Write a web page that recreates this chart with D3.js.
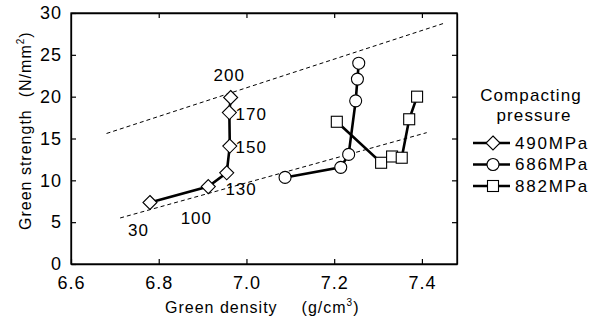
<!DOCTYPE html>
<html>
<head>
<meta charset="utf-8">
<script src="https://cdn.jsdelivr.net/npm/d3@7/dist/d3.min.js"></script>
<style>
body { margin: 0; background: #fff; }
text { font-family: "Liberation Sans", Arial, sans-serif; fill: #000; }
</style>
</head>
<body>
<div id="chart"></div>
<script>
// data
var xTicks = [6.6, 6.8, 7.0, 7.2, 7.4];
var yTicks = [0, 5, 10, 15, 20, 25, 30];

var d490 = [[6.78, 7.35], [6.913, 9.25], [6.955, 10.9], [6.962, 14.1], [6.961, 18.1], [6.964, 19.9]];
var d686 = [[7.088, 10.35], [7.215, 11.55], [7.233, 13.1], [7.249, 19.5], [7.253, 22.1], [7.256, 24.0]];
var d882 = [[7.206, 17.0], [7.307, 12.1], [7.332, 12.85], [7.354, 12.7], [7.371, 17.3], [7.389, 20.0]];

var upperDash = [[6.681, 15.6], [7.452, 28.8]];
var lowerDash = [[6.712, 5.5], [7.411, 15.7]];

// die temperature labels for the 490MPa series (data units)
var tempLabels = [
    { t: '200', x: 6.925, y: 22.6 },
    { t: '170', x: 6.975, y: 17.9 },
    { t: '150', x: 6.975, y: 14.0 },
    { t: '130', x: 6.952, y: 8.9 },
    { t: '100', x: 6.85, y: 5.5 },
    { t: '30', x: 6.73, y: 4.0 }
];

var seriesNames = ['490MPa', '686MPa', '882MPa'];
var seriesShapes = ['diamond', 'circle', 'square'];

var width = 598, height = 325;
var margin = { top: 13, right: 141, bottom: 61, left: 71 };
var w = width - margin.left - margin.right;
var h = height - margin.top - margin.bottom;

var svg = d3.select('#chart').append('svg')
    .attr('width', width)
    .attr('height', height);

var g = svg.append('g')
    .attr('transform', 'translate(' + margin.left + ',' + margin.top + ')');

var xScale = d3.scaleLinear().domain([6.6, 7.48]).range([0, w]);
var yScale = d3.scaleLinear().domain([0, 30]).range([h, 0]);

// axes, ticks pointing inwards
var xAxis = d3.axisBottom(xScale).tickValues(xTicks).tickSizeInner(-5).tickSizeOuter(0).tickPadding(12)
    .tickFormat(d3.format('.1f'));
var yAxis = d3.axisLeft(yScale).tickValues(yTicks).tickSizeInner(-5).tickSizeOuter(0).tickPadding(9)
    .tickFormat(d3.format('d'));

var gx = g.append('g').attr('transform', 'translate(0,' + h + ')').call(xAxis);
var gy = g.append('g').call(yAxis);
var gxTop = g.append('g').call(d3.axisTop(xScale).tickValues(xTicks.slice(1)).tickSizeInner(-5).tickSizeOuter(0).tickFormat(''));
var gyRight = g.append('g').attr('transform', 'translate(' + w + ',0)')
    .call(d3.axisRight(yScale).tickValues(yTicks.slice(1, -1)).tickSizeInner(-5).tickSizeOuter(0).tickFormat(''));

[gx, gy, gxTop, gyRight].forEach(function(a) {
    a.select('.domain').attr('stroke', '#000').attr('stroke-width', 1.3);
    a.selectAll('.tick line').attr('stroke', '#000').attr('stroke-width', 1.2);
    a.selectAll('.tick text').style('font-size', '18px').style('letter-spacing', '1px')
        .style('font-family', '"Liberation Sans", Arial, sans-serif');
});
// the frame
g.append('rect').attr('width', w).attr('height', h)
    .attr('fill', 'none').attr('stroke', '#000').attr('stroke-width', 1.3);

var line = d3.line()
    .x(function(d) { return xScale(d[0]); })
    .y(function(d) { return yScale(d[1]); });

[upperDash, lowerDash].forEach(function(d) {
    g.append('path').attr('d', line(d))
        .attr('fill', 'none').attr('stroke', '#000')
        .attr('stroke-width', 1).attr('stroke-dasharray', '4,3');
});

function drawMarker(sel, shape) {
    if (shape === 'diamond') {
        sel.append('path').attr('d', 'M0,-7L7,0L0,7L-7,0Z');
    } else if (shape === 'circle') {
        sel.append('circle').attr('r', 6);
    } else {
        sel.append('rect').attr('x', -5.5).attr('y', -5.5).attr('width', 11).attr('height', 11);
    }
    sel.selectAll('path,circle,rect').attr('fill', '#fff').attr('stroke', '#000').attr('stroke-width', 1.1);
}

[d490, d686, d882].forEach(function(data, i) {
    g.append('path').attr('d', line(data))
        .attr('fill', 'none').attr('stroke', '#000').attr('stroke-width', 2.6);
    g.selectAll('.m' + i).data(data).enter().append('g')
        .attr('class', 'm' + i)
        .attr('transform', function(d) { return 'translate(' + xScale(d[0]) + ',' + yScale(d[1]) + ')'; })
        .each(function() { drawMarker(d3.select(this), seriesShapes[i]); });
});

g.selectAll('.tl').data(tempLabels).enter().append('text')
    .attr('class', 'tl')
    .attr('x', function(d) { return xScale(d.x); })
    .attr('y', function(d) { return yScale(d.y); })
    .attr('dy', '0.35em')
    .style('font-size', '17px')
    .style('letter-spacing', '1px')
    .text(function(d) { return d.t; });

// axis titles
var xt = svg.append('text')
    .attr('x', 165).attr('y', 313)
    .style('font-size', '16px').style('letter-spacing', '1px');
xt.append('tspan').text('Green density');
xt.append('tspan').attr('dx', 24).text('(g/cm');
xt.append('tspan').attr('dy', -7).style('font-size', '10px').text('3');
xt.append('tspan').attr('dy', 7).text(')');

var yt = svg.append('text')
    .attr('transform', 'translate(31,230) rotate(-90)')
    .style('font-size', '16px').style('letter-spacing', '1px');
yt.append('tspan').text('Green strength');
yt.append('tspan').attr('dx', 12).text('(N/mm');
yt.append('tspan').attr('dy', -7).style('font-size', '10px').text('2');
yt.append('tspan').attr('dy', 7).text(')');

// legend
var lg = svg.append('g');
lg.append('text').attr('x', 531).attr('y', 101).attr('text-anchor', 'middle')
    .style('font-size', '17px').style('letter-spacing', '1.1px').text('Compacting');
lg.append('text').attr('x', 534).attr('y', 121).attr('text-anchor', 'middle')
    .style('font-size', '17px').style('letter-spacing', '1.1px').text('pressure');
seriesNames.forEach(function(name, i) {
    var ly = 143 + i * 21.5;
    var item = lg.append('g').attr('transform', 'translate(0,' + ly + ')');
    item.append('line').attr('x1', 473).attr('x2', 510)
        .attr('stroke', '#000').attr('stroke-width', 2.6);
    var mk = item.append('g').attr('transform', 'translate(493,0)');
    drawMarker(mk, seriesShapes[i]);
    item.append('text').attr('x', 515).attr('dy', '0.35em')
        .style('font-size', '17px').style('letter-spacing', '1.8px').text(name);
});
</script>
</body>
</html>
